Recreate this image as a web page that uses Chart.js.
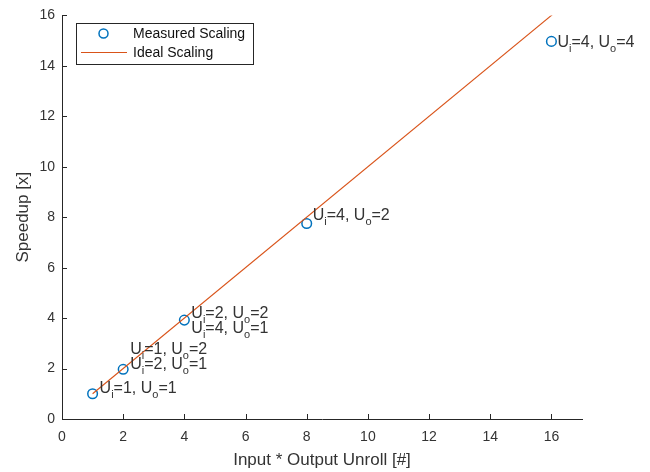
<!DOCTYPE html>
<html>
<head>
<meta charset="utf-8">
<script src="https://cdn.jsdelivr.net/npm/chart.js@4"></script>
<style>
  body { margin: 0; background: #fff; }
  #wrap { width: 650px; height: 472px; }
</style>
</head>
<body>
<div id="wrap"><canvas id="speedupChart" width="650" height="472"></canvas></div>
<script>
// measured points (unroll product vs speedup)
const measuredX = [1, 2, 4, 8, 16];
const measuredY = [1.0, 1.97, 3.92, 7.75, 14.97];
// ideal scaling line y = x
const idealX = [1, 17];
const idealY = [1, 17];
const xTicks = [0, 2, 4, 6, 8, 10, 12, 14, 16];
const yTicks = [0, 2, 4, 6, 8, 10, 12, 14, 16];
// annotation text per measured point ("_" marks a subscript char)
const pointLabels = [
  ["U_i=1, U_o=1"],
  ["U_i=1, U_o=2", "U_i=2, U_o=1"],
  ["U_i=2, U_o=2", "U_i=4, U_o=1"],
  ["U_i=4, U_o=2"],
  ["U_i=4, U_o=4"],
];
const legendLabels = ["Measured Scaling", "Ideal Scaling"];

const BLUE = "#0072BD";
const ORANGE = "#D95319";
const AXIS = "#262626";
const TEXT = "#333333";
const FONT = "'Liberation Sans', Arial, sans-serif";

// draw a string with "_x" subscripts, baseline at y
function drawSubText(ctx, str, x, y, size) {
  let cx = x;
  for (let i = 0; i < str.length; i++) {
    if (str[i] === "_" && i + 1 < str.length) {
      ctx.font = Math.round(size * 0.7) + "px " + FONT;
      ctx.fillText(str[i + 1], cx, y + 5);
      cx += ctx.measureText(str[i + 1]).width;
      i++;
    } else {
      ctx.font = size + "px " + FONT;
      ctx.fillText(str[i], cx, y);
      cx += ctx.measureText(str[i]).width;
    }
  }
}

// inward ticks, point annotations and the boxed legend
const matlabStyle = {
  id: "matlabStyle",
  afterDraw(chart) {
    const ctx = chart.ctx;
    const xs = chart.scales.x;
    const ys = chart.scales.y;
    const area = chart.chartArea;
    ctx.save();
    ctx.strokeStyle = AXIS;
    ctx.lineWidth = 1;
    ctx.beginPath();
    xTicks.forEach((v) => {
      const px = Math.round(xs.getPixelForValue(v)) + 0.5;
      ctx.moveTo(px, area.bottom);
      ctx.lineTo(px, area.bottom - 5);
    });
    yTicks.forEach((v) => {
      const py = Math.round(ys.getPixelForValue(v)) + 0.5;
      ctx.moveTo(area.left, py);
      ctx.lineTo(area.left + 5, py);
    });
    ctx.stroke();

    // point labels: [dx, dy of first line's cap centre]
    const offsets = [[7, -6.5], [7, -21], [7, -7.5], [6, -9], [6, 0]];
    ctx.fillStyle = TEXT;
    ctx.textBaseline = "alphabetic";
    ctx.textAlign = "left";
    pointLabels.forEach((lines, i) => {
      const px = xs.getPixelForValue(measuredX[i]);
      const py = ys.getPixelForValue(measuredY[i]);
      lines.forEach((line, j) => {
        const cy = py + offsets[i][1] + j * 14.5;
        drawSubText(ctx, line, px + offsets[i][0], cy + 5.7, 16);
      });
    });

    // legend box
    ctx.fillStyle = "#fff";
    ctx.fillRect(76, 23, 177, 41);
    ctx.strokeStyle = AXIS;
    ctx.strokeRect(76.5, 23.5, 177, 41);
    ctx.strokeStyle = BLUE;
    ctx.lineWidth = 1.5;
    ctx.beginPath();
    ctx.arc(103.5, 33.5, 4.5, 0, Math.PI * 2);
    ctx.stroke();
    ctx.strokeStyle = ORANGE;
    ctx.lineWidth = 1;
    ctx.beginPath();
    ctx.moveTo(81, 52.5);
    ctx.lineTo(127, 52.5);
    ctx.stroke();
    ctx.fillStyle = "#111";
    ctx.font = "14px " + FONT;
    ctx.textBaseline = "middle";
    ctx.fillText(legendLabels[0], 133, 34);
    ctx.fillText(legendLabels[1], 133, 53);
    ctx.restore();
  },
};

const ctx = document.getElementById("speedupChart").getContext("2d");
new Chart(ctx, {
  type: "scatter",
  data: {
    datasets: [
      {
        label: legendLabels[1],
        data: idealX.map((x, i) => ({ x: x, y: idealY[i] })),
        showLine: true,
        borderColor: ORANGE,
        borderWidth: 1.1,
        pointRadius: 0,
        order: 0,
      },
      {
        label: legendLabels[0],
        data: measuredX.map((x, i) => ({ x: x, y: measuredY[i] })),
        showLine: false,
        borderColor: BLUE,
        backgroundColor: "rgba(0,0,0,0)",
        borderWidth: 1.5,
        pointRadius: 4.8,
        pointStyle: "circle",
        order: 1,
      },
    ],
  },
  options: {
    responsive: false,
    animation: false,
    layout: { padding: { left: 0, top: 11, right: 68, bottom: 0 } },
    plugins: {
      legend: { display: false },
      tooltip: { enabled: false },
    },
    scales: {
      x: {
        type: "linear",
        min: 0,
        max: 17,
        afterBuildTicks: (s) => { s.ticks = xTicks.map((v) => ({ value: v })); },
        afterFit: (s) => { s.height = 53; },
        grid: { display: false, drawTicks: false },
        border: { display: true, color: AXIS, width: 1 },
        ticks: { color: TEXT, font: { family: FONT, size: 14 }, padding: 10, maxRotation: 0 },
        title: {
          display: true,
          text: "Input * Output Unroll [#]",
          color: TEXT,
          font: { family: FONT, size: 17 },
          padding: { top: 0, bottom: 1 },
        },
      },
      y: {
        type: "linear",
        min: 0,
        max: 16,
        afterBuildTicks: (s) => { s.ticks = yTicks.map((v) => ({ value: v })); },
        afterFit: (s) => { s.width = 62; },
        grid: { display: false, drawTicks: false },
        border: { display: true, color: AXIS, width: 1 },
        ticks: { color: TEXT, font: { family: FONT, size: 14 }, padding: 7 },
        title: {
          display: true,
          text: "Speedup [x]",
          color: TEXT,
          font: { family: FONT, size: 17 },
          padding: { top: 13, bottom: 0 },
        },
      },
    },
  },
  plugins: [matlabStyle],
});
</script>
</body>
</html>
